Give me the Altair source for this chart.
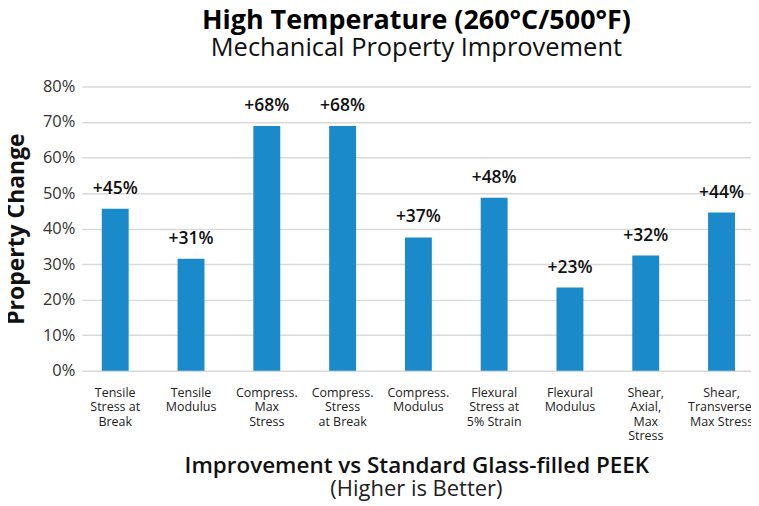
import altair as alt
import pandas as pd

categories = [
    "Tensile\nStress at\nBreak",
    "Tensile\nModulus",
    "Compress.\nMax\nStress",
    "Compress.\nStress\nat Break",
    "Compress.\nModulus",
    "Flexural\nStress at\n5% Strain",
    "Flexural\nModulus",
    "Shear,\nAxial,\nMax\nStress",
    "Shear,\nTransverse,\nMax Stress",
]
values = [45.6, 31.5, 68.9, 68.9, 37.5, 48.7, 23.4, 32.4, 44.5]
value_labels = ["+45%", "+31%", "+68%", "+68%", "+37%", "+48%", "+23%", "+32%", "+44%"]
y_ticks = [0, 10, 20, 30, 40, 50, 60, 70, 80]

df = pd.DataFrame({"cat": categories, "val": values, "lab": value_labels})

FONT = "Open Sans"
W, H = 671, 285

x = alt.X(
    "cat:N",
    sort=categories,
    scale=alt.Scale(paddingInner=0.645, paddingOuter=0.2375, align=0.555),
    axis=alt.Axis(
        title="Improvement vs Standard Glass-filled PEEK",
        titleFont=FONT, titleFontSize=22.5, titleFontWeight=600, titleColor="#111",
        titleX=W / 2, titleY=102, titleBaseline="alphabetic", titleAlign="center",
        labelExpr="split(datum.label, '\\n')",
        labelFont=FONT, labelFontSize=12.5, labelColor="#222", labelLineHeight=14.3,
        labelAngle=0, labelPadding=16, ticks=False, domain=False, labelBaseline="top",
        labelOverlap=False,
    ),
)
y = alt.Y(
    "val:Q",
    scale=alt.Scale(domain=[0, 80]),
    axis=alt.Axis(
        title="Property Change", values=y_ticks,
        labelExpr="datum.value + '%'",
        titleFont=FONT, titleFontSize=23, titleFontWeight="bold", titleColor="#111",
        titleX=-65, titleY=H / 2, titleAngle=270, titleBaseline="middle", titleAlign="center",
        labelFont=FONT, labelFontSize=16.5, labelColor="#333", labelPadding=7,
        ticks=False, domain=False, grid=True, gridColor="#d9d9d9", gridWidth=1.5,
        labelOverlap=False,
    ),
)

base = alt.Chart(df).encode(x=x, y=y)
bars = base.mark_bar(color="#1B8ACB")
labels = base.mark_text(
    font=FONT, fontSize=17.5, fontWeight=600, color="#111", baseline="alphabetic", dy=-15
).encode(text="lab:N")

note = alt.Chart(pd.DataFrame({"t": ["(Higher is Better)"]})).mark_text(
    font=FONT, fontSize=22, color="#222", baseline="alphabetic", align="center"
).encode(x=alt.value(W / 2), y=alt.value(411), text="t:N")

chart = alt.layer(bars, labels, note).properties(
    width=W, height=H,
    autosize=alt.AutoSizeParams(type="none"),
    padding={"left": 74, "top": 78, "right": 0, "bottom": 130},
    title=alt.TitleParams(
        text="High Temperature (260°C/500°F)",
        subtitle="Mechanical Property Improvement",
        font=FONT, fontSize=27, fontWeight="bold", color="#000",
        subtitleFont=FONT, subtitleFontSize=25.5, subtitleColor="#111",
        anchor="middle", frame="group", offset=16, subtitlePadding=1,
    ),
).configure_view(stroke=None)

chart.save("out.html", embed_options={"renderer": "svg", "actions": False})
